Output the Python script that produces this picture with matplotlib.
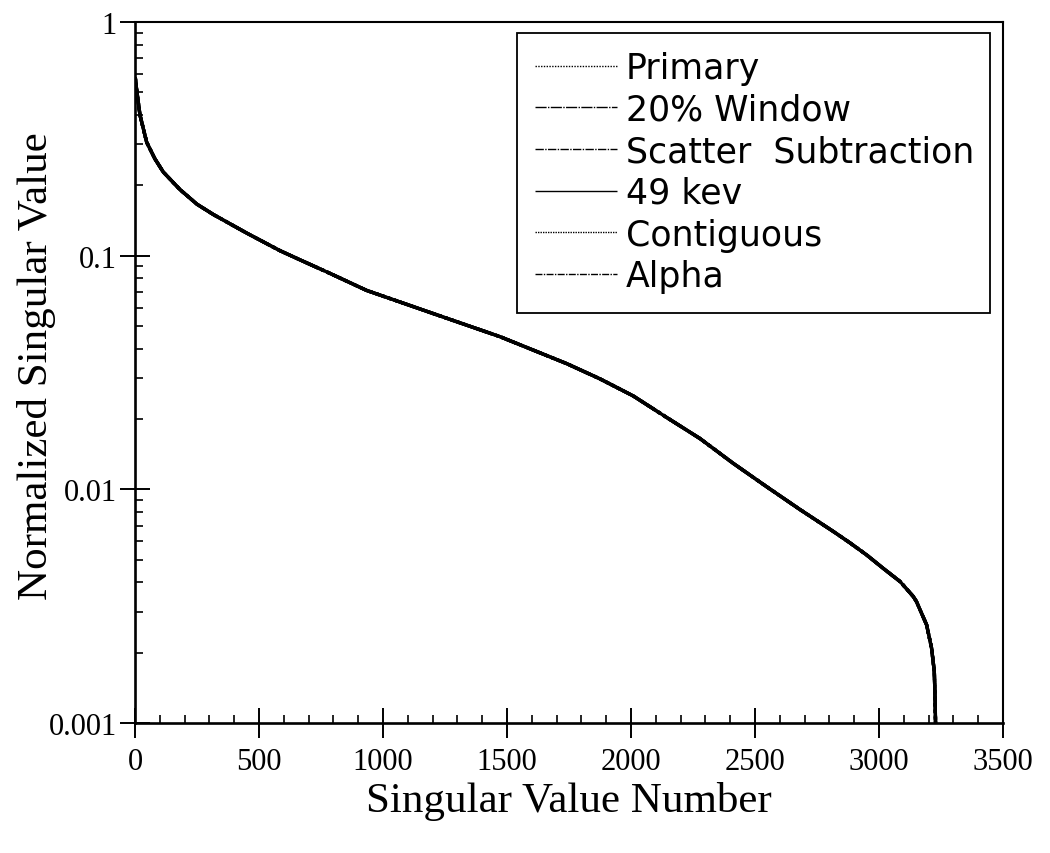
import matplotlib
matplotlib.use("Agg")
import matplotlib.pyplot as plt
from matplotlib.ticker import FixedLocator, MultipleLocator, LogLocator, NullFormatter
from matplotlib.patches import Rectangle

# ---- data ----
sv_number = [1, 4, 8, 20, 47, 80, 114, 181, 250, 316, 450, 585, 665, 786, 934,
             1203, 1472, 1741, 1875, 2009, 2144, 2278, 2413, 2547, 2681, 2816,
             2883, 2950, 3017, 3085, 3138, 3151, 3192, 3212, 3223, 3226, 3228, 3232]
sv_value = [0.58, 0.54, 0.5, 0.40, 0.306, 0.26, 0.228, 0.192, 0.166, 0.150, 0.125,
            0.105, 0.096, 0.084, 0.071, 0.0565, 0.045, 0.0345, 0.0297, 0.0251,
            0.0203, 0.0165, 0.0129, 0.01026, 0.0082, 0.0066, 0.0059, 0.00524,
            0.00459, 0.00403, 0.00348, 0.00331, 0.00263, 0.00209, 0.00166,
            0.00128, 0.001, 0.0008]

series_names = ["Primary", "20% Window", "Scatter  Subtraction", "49 kev",
                "Contiguous", "Alpha"]
# all six curves coincide at this resolution
series_values = {name: sv_value for name in series_names}

x_ticks = [0, 500, 1000, 1500, 2000, 2500, 3000, 3500]
y_ticks = [0.001, 0.01, 0.1, 1]
y_tick_labels = ["0.001", "0.01", "0.1", "1"]

styles = {
    "Primary": (0, (1, 1)),
    "20% Window": (0, (8, 1, 1, 1)),
    "Scatter  Subtraction": (0, (6, 1, 1, 1)),
    "49 kev": "-",
    "Contiguous": (0, (1, 0.8)),
    "Alpha": (0, (5, 1, 1, 1)),
}

fig = plt.figure(figsize=(10.5, 8.54), dpi=100)
ax = fig.add_axes([135 / 1050, 1 - 724 / 854, 868 / 1050, 701 / 854])

for name in series_names:
    ax.plot(sv_number, series_values[name], color="black", lw=2.4,
            linestyle=styles[name], label=name, solid_capstyle="butt",
            solid_joinstyle="round")

ax.set_yscale("log")
ax.set_xlim(0, 3500)
ax.set_ylim(0.001, 1)

serif = ["Liberation Serif", "DejaVu Serif"]
ax.xaxis.set_major_locator(FixedLocator(x_ticks))
ax.xaxis.set_minor_locator(MultipleLocator(100))
ax.set_xticklabels([str(t) for t in x_ticks], fontsize=22, family=serif)
ax.yaxis.set_major_locator(FixedLocator(y_ticks))
ax.yaxis.set_minor_locator(LogLocator(base=10, subs=range(2, 10)))
ax.yaxis.set_minor_formatter(NullFormatter())
ax.set_yticklabels(y_tick_labels, fontsize=22, family=serif)

ax.tick_params(which="major", direction="inout", length=22, width=1.4,
               top=False, right=False)
ax.tick_params(which="minor", direction="in", length=5.5, width=1.2,
               top=False, right=False)
ax.tick_params(axis="x", which="major", pad=6)
ax.tick_params(axis="y", which="major", pad=2)

for side in ["left", "bottom"]:
    ax.spines[side].set_linewidth(1.9)
for side in ["top", "right"]:
    ax.spines[side].set_linewidth(1.5)

ax.set_xlabel("Singular Value Number", fontsize=31, family=serif, labelpad=4)
ax.set_ylabel("Normalized Singular Value", fontsize=31, family=serif)
ax.yaxis.set_label_coords(-0.091, 0.51)

# legend frame
x0 = (517 - 135) / 868
x1 = (990 - 135) / 868
y0 = (724 - 314) / 701
y1 = (724 - 34) / 701
ax.add_patch(Rectangle((x0, y0), x1 - x0, y1 - y0, transform=ax.transAxes,
                       fill=True, facecolor="white", edgecolor="black",
                       lw=1.3, zorder=5))

leg = ax.legend(loc="upper left",
                bbox_to_anchor=((535 - 135) / 868, (724 - 52) / 701),
                frameon=False, borderpad=0, borderaxespad=0,
                handlelength=2.35, handletextpad=0.27, labelspacing=0.22,
                prop={"family": "DejaVu Sans", "size": 25})
leg.set_zorder(6)
for h in leg.get_lines():
    h.set_linewidth(1.0)

fig.savefig("out.png", dpi=100, facecolor="white")
